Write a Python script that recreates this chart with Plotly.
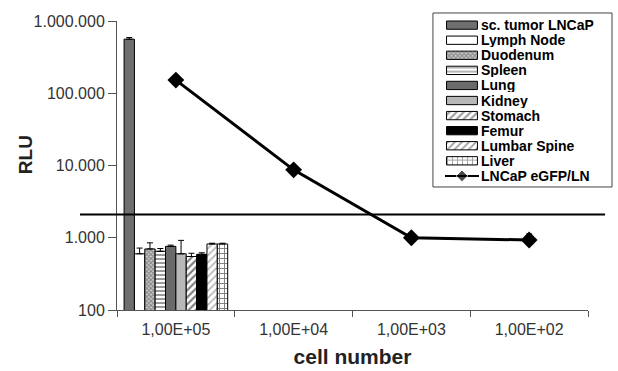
import plotly.graph_objects as go

categories = ["1,00E+05", "1,00E+04", "1,00E+03", "1,00E+02"]

tissues = ["sc. tumor LNCaP", "Lymph Node", "Duodenum", "Spleen", "Lung",
           "Kidney", "Stomach", "Femur", "Lumbar Spine", "Liver"]
tissue_values = [560000, 600, 700, 650, 760, 600, 550, 590, 820, 820]
tissue_err = [30000, 120, 150, 60, 30, 320, 60, 30, 20, 20]

line_name = "LNCaP eGFP/LN"
line_values = [152000, 8700, 1000, 930]
line_err = [0, 0, 150, 200]

threshold = 2100

ytick_vals = [100, 1000, 10000, 100000, 1000000]
ytick_text = ["100", "1.000", "10.000", "100.000", "1.000.000"]

# styles per tissue
fill_colors = ["#6f6f6f", "white", "#cfcfcf", "white", "#6a6a6a",
               "#b8b8b8", "white", "black", "white", "white"]
pat_shapes = ["", "", "x", "-", "", "", "/", "", "/", "+"]
pat_fg = ["black", "black", "#444444", "black", "black",
          "black", "black", "black", "#777777", "black"]
pat_size = [5, 5, 3, 4, 5, 5, 5, 5, 5, 5]
pat_sol = [0.3, 0.3, 0.6, 0.4, 0.3, 0.3, 0.45, 0.3, 0.35, 0.35]

FONT = "Liberation Sans, Arial, sans-serif"

fig = go.Figure()
for i, (name, v, e) in enumerate(zip(tissues, tissue_values, tissue_err)):
    m = dict(color=fill_colors[i], line=dict(color="black", width=1))
    if pat_shapes[i]:
        m["pattern"] = dict(shape=pat_shapes[i], size=pat_size[i], solidity=pat_sol[i],
                            fgcolor=pat_fg[i], bgcolor=fill_colors[i])
    fig.add_trace(go.Bar(
        x=[categories[0]], y=[v], name=name, marker=m, showlegend=False,
        error_y=dict(type="data", array=[e], symmetric=False, arrayminus=[0],
                     color="black", thickness=1, width=3),
    ))

fig.add_trace(go.Scatter(
    x=categories, y=line_values, name=line_name, mode="lines+markers",
    line=dict(color="black", width=3), showlegend=False,
    marker=dict(symbol="diamond", size=13, color="black"),
    error_y=dict(type="data", array=line_err, symmetric=False,
                 arrayminus=[0, 0, 0, 0], color="black", thickness=1, width=3),
))

# ---- custom compact legend (swatches on an inset axis) ----
legend_names = tissues + [line_name]
fig.add_trace(go.Bar(
    x=[1] * len(tissues), y=tissues, orientation="h", xaxis="x2", yaxis="y2",
    width=0.55, showlegend=False, hoverinfo="skip",
    marker=dict(color=fill_colors, line=dict(color="black", width=1),
                pattern=dict(shape=pat_shapes, size=pat_size, solidity=pat_sol,
                             fgcolor=pat_fg, bgcolor=fill_colors)),
))
fig.add_trace(go.Scatter(
    x=[-0.05, 0.5, 1.05], y=[line_name] * 3, xaxis="x2", yaxis="y2",
    mode="lines+markers", showlegend=False, hoverinfo="skip",
    line=dict(color="black", width=2),
    marker=dict(symbol="diamond", size=[0, 9, 0], color="black"),
))
for nm in legend_names:
    fig.add_annotation(x=0.732, xref="paper", y=nm, yref="y2", text="<b>%s</b>" % nm,
                       showarrow=False, xanchor="left", yanchor="middle",
                       height=14, borderpad=0,
                       font=dict(size=14, color="black", family=FONT))
fig.add_shape(type="rect", xref="paper", yref="paper", x0=0.637, x1=0.998,
              y0=0.4033, y1=0.9738, line=dict(color="#444444", width=1),
              fillcolor="white", layer="below")

fig.add_shape(type="line", xref="paper", yref="y", x0=-0.0746, x1=0.984,
              y0=threshold, y1=threshold, line=dict(color="black", width=2))

# y axis title placed as rotated text
fig.add_annotation(x=-0.1855, xref="paper", y=0.511, yref="paper", text="<b>RLU</b>",
                   textangle=-90, showarrow=False, xanchor="center", yanchor="middle",
                   font=dict(size=19, color="#222222", family=FONT))

fig.update_layout(
    width=618, height=371,
    margin=dict(l=117, r=5, t=5, b=61, autoexpand=False),
    paper_bgcolor="white", plot_bgcolor="rgba(0,0,0,0)",
    barmode="group", bargap=0.12, bargroupgap=0,
    font=dict(family=FONT, color="#222222"),
    showlegend=False,
    xaxis=dict(type="category", categoryorder="array", categoryarray=categories,
               domain=[0, 0.9496], automargin=False,
               range=[-0.5, 3.5], showline=True, linecolor="#555555", linewidth=1,
               ticks="outside", tickson="boundaries", ticklen=6, tickcolor="#555555",
               tickfont=dict(size=16, color="#333333"), showgrid=False,
               ticklabelstandoff=5,
               title=dict(text="<b>cell number</b>", font=dict(size=21, color="#222222"), standoff=12)),
    yaxis=dict(type="log", range=[2, 6], domain=[0, 0.9475], automargin=False,
               showline=True, linecolor="#555555", linewidth=1,
               ticks="outside", ticklen=8, tickcolor="#555555",
               tickvals=ytick_vals, ticktext=ytick_text,
               tickfont=dict(size=16, color="#333333"), showgrid=False),
    xaxis2=dict(domain=[0.6613, 0.7298], range=[-0.05, 1.05], visible=False, anchor="y2"),
    yaxis2=dict(domain=[0.4150, 0.9587], type="category", categoryorder="array",
                categoryarray=list(reversed(legend_names)), range=[-0.5, len(legend_names) - 0.5],
                visible=False, anchor="x2"),
)

fig.write_html("out.html")
